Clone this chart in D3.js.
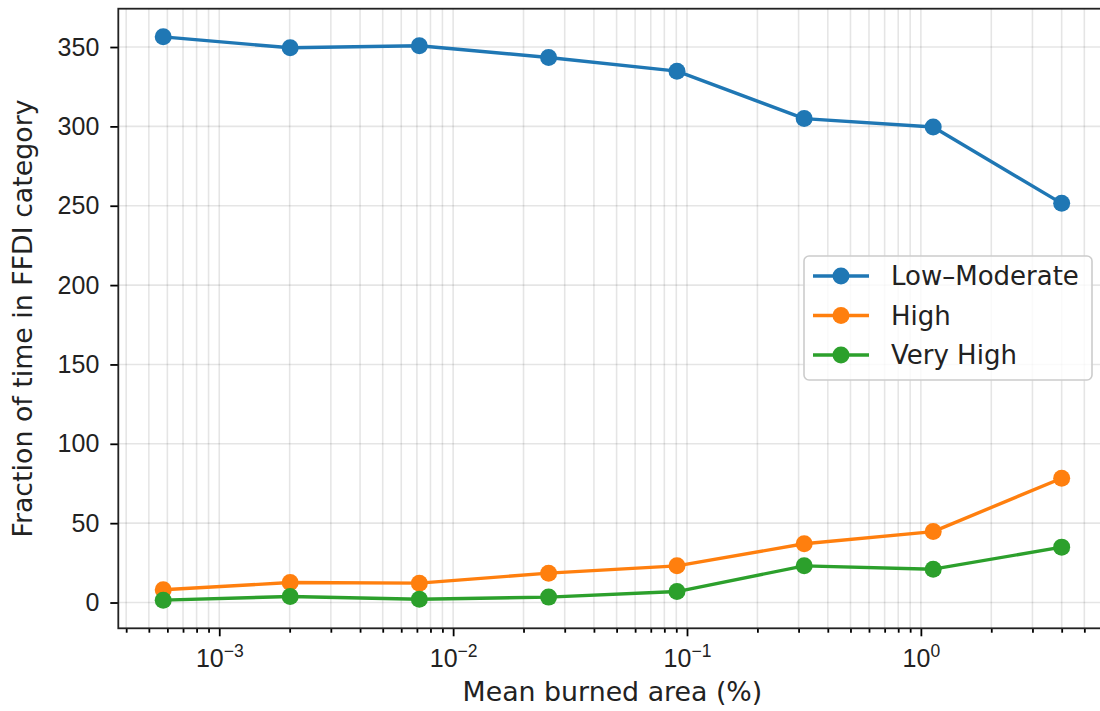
<!DOCTYPE html>
<html>
<head>
<meta charset="utf-8">
<script src="https://cdn.jsdelivr.net/npm/d3@7"></script>
<style>
  body { margin: 0; background: #fff; }
  svg { display: block; font-family: "DejaVu Sans", sans-serif; }
</style>
</head>
<body>
<svg id="drawing_region"></svg>
<script>
// mean burned area (%) per bin
const burnedArea = [0.000576, 0.00201, 0.00717, 0.0256, 0.0906, 0.317, 1.129, 4.0];
const lowModerate = [356.4, 349.5, 350.8, 343.4, 334.8, 304.9, 299.6, 251.5];
const high = [8.0, 12.6, 12.2, 18.5, 23.1, 37.0, 44.7, 78.3];
const veryHigh = [1.5, 3.8, 2.1, 3.4, 6.9, 23.1, 21.0, 34.9];

const seriesNames = ["Low\u2013Moderate", "High", "Very High"];
const seriesColors = ["#1f77b4", "#ff7f0e", "#2ca02c"];
const yTicks = [0, 50, 100, 150, 200, 250, 300, 350];
const xTicks = [1e-3, 1e-2, 1e-1, 1e0];

class LogLinePlot {
    constructor(config, series) {
        this.config = config;
        this.series = series;
        this.init();
    }

    init() {
        let self = this;
        const c = self.config;

        self.svg = d3.select(c.parent)
            .attr('width', c.width)
            .attr('height', c.height);

        self.inner_width = c.plotRight - c.margin.left;
        self.inner_height = c.plotBottom - c.margin.top;

        self.chart = self.svg.append('g')
            .attr('transform', `translate(${c.margin.left}, ${c.margin.top})`);

        // matplotlib style 5% margins (in log space for x)
        const lx = d3.extent(burnedArea, d => Math.log10(d));
        const px = (lx[1] - lx[0]) * 0.05;
        self.xscale = d3.scaleLog()
            .domain([Math.pow(10, lx[0] - px), Math.pow(10, lx[1] + px)])
            .range([0, self.inner_width]);

        const all = self.series.flatMap(s => s.values);
        const ly = d3.extent(all);
        const py = (ly[1] - ly[0]) * 0.05;
        self.yscale = d3.scaleLinear()
            .domain([ly[0] - py, ly[1] + py])
            .range([self.inner_height, 0]);
    }

    render() {
        let self = this;
        const c = self.config;
        const W = self.inner_width, H = self.inner_height;

        // minor tick values across the decades
        const dom = self.xscale.domain();
        const minor = [];
        for (let e = Math.floor(Math.log10(dom[0])); e <= Math.ceil(Math.log10(dom[1])); e++) {
            for (let m = 2; m <= 9; m++) {
                const v = m * Math.pow(10, e);
                if (v >= dom[0] && v <= dom[1]) minor.push(v);
            }
        }

        // grid
        const grid = self.chart.append('g')
            .attr('stroke', '#000')
            .attr('stroke-opacity', 0.1)
            .attr('stroke-width', 1.6);
        grid.selectAll('line.vx')
            .data(xTicks.concat(minor))
            .join('line')
            .attr('x1', d => self.xscale(d)).attr('x2', d => self.xscale(d))
            .attr('y1', 0).attr('y2', H);
        grid.selectAll('line.hy')
            .data(yTicks)
            .join('line')
            .attr('x1', 0).attr('x2', W)
            .attr('y1', d => self.yscale(d)).attr('y2', d => self.yscale(d));

        // lines and markers
        const line = d3.line()
            .x((d, i) => self.xscale(burnedArea[i]))
            .y(d => self.yscale(d));

        self.series.forEach(s => {
            self.chart.append('path')
                .datum(s.values)
                .attr('fill', 'none')
                .attr('stroke', s.color)
                .attr('stroke-width', 3.4)
                .attr('stroke-linejoin', 'round')
                .attr('d', line);
            self.chart.append('g')
                .selectAll('circle')
                .data(s.values)
                .join('circle')
                .attr('cx', (d, i) => self.xscale(burnedArea[i]))
                .attr('cy', d => self.yscale(d))
                .attr('r', 8.5)
                .attr('fill', s.color);
        });

        // axes
        const xaxis = d3.axisBottom(self.xscale)
            .tickValues(xTicks)
            .tickSize(8)
            .tickPadding(10)
            .tickSizeOuter(0)
            .tickFormat('');
        const xg = self.chart.append('g')
            .attr('transform', `translate(0, ${H})`)
            .call(xaxis);
        xg.selectAll('.tick text')
            .attr('font-size', 25)
            .attr('dy', null)
            .attr('y', 39)
            .attr('text-anchor', 'middle')
            .each(function(d) {
                const e = Math.round(Math.log10(d));
                const t = d3.select(this);
                t.append('tspan').text('10');
                t.append('tspan')
                    .attr('font-size', 17.5)
                    .attr('dy', -10)
                    .text(e < 0 ? '\u2212' + (-e) : String(e));
            });

        const xminor = d3.axisBottom(self.xscale)
            .tickValues(minor)
            .tickSize(4.4)
            .tickSizeOuter(0)
            .tickFormat('');
        self.chart.append('g')
            .attr('transform', `translate(0, ${H})`)
            .call(xminor);

        const yaxis = d3.axisLeft(self.yscale)
            .tickValues(yTicks)
            .tickSize(8)
            .tickPadding(11)
            .tickSizeOuter(0);
        self.chart.append('g')
            .call(yaxis)
            .selectAll('.tick text')
            .attr('font-size', 25);

        self.chart.selectAll('.domain').remove();
        self.chart.selectAll('.tick line')
            .attr('stroke', '#000')
            .attr('stroke-width', 1.8);
        self.chart.selectAll('.tick text').attr('fill', '#222');

        // frame (right spine falls just outside the canvas)
        self.chart.append('rect')
            .attr('x', 0).attr('y', 0)
            .attr('width', W).attr('height', H)
            .attr('fill', 'none')
            .attr('stroke', '#222')
            .attr('stroke-width', 1.8);

        // axis labels
        self.svg.append('text')
            .attr('x', c.margin.left + W / 2)
            .attr('y', 701)
            .attr('text-anchor', 'middle')
            .attr('font-size', 26.8)
            .attr('fill', '#222')
            .text('Mean burned area (%)');

        self.svg.append('text')
            .attr('transform', `translate(32, ${c.margin.top + H / 2}) rotate(-90)`)
            .attr('text-anchor', 'middle')
            .attr('font-size', 26.8)
            .attr('fill', '#222')
            .text('Fraction of time in FFDI category');

        // legend, center right
        const lg = self.svg.append('g')
            .attr('transform', `translate(804, 256)`);
        lg.append('rect')
            .attr('width', 288).attr('height', 124)
            .attr('rx', 5)
            .attr('fill', '#fff').attr('fill-opacity', 0.8)
            .attr('stroke', '#ccc')
            .attr('stroke-width', 1.6);
        const rows = lg.selectAll('g.row')
            .data(self.series)
            .join('g')
            .attr('transform', (d, i) => `translate(0, ${20 + i * 39.5})`);
        rows.append('line')
            .attr('x1', 9).attr('x2', 65)
            .attr('stroke', d => d.color)
            .attr('stroke-width', 3.4);
        rows.append('circle')
            .attr('cx', 37).attr('r', 8.5)
            .attr('fill', d => d.color);
        rows.append('text')
            .attr('x', 87)
            .attr('dy', '0.36em')
            .attr('font-size', 26)
            .attr('fill', '#222')
            .text(d => d.name);
    }
}

const series = [lowModerate, high, veryHigh].map((v, i) => ({
    name: seriesNames[i], color: seriesColors[i], values: v
}));

const plot = new LogLinePlot({
    parent: '#drawing_region',
    width: 1100,
    height: 711,
    margin: {top: 8.7, left: 118.3},
    plotRight: 1106.6,
    plotBottom: 628.3
}, series);
plot.render();
</script>
</body>
</html>
